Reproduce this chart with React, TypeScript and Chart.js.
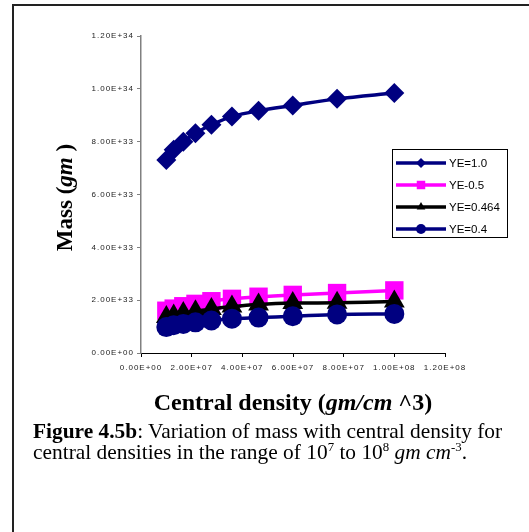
import React, { useEffect, useRef } from "react";
import { Chart, registerables } from "chart.js";

Chart.register(...registerables);

// Central density (gm/cm^3) at each computed model
const densities = [1.0e7, 1.29e7, 1.67e7, 2.15e7, 2.78e7, 3.59e7, 4.64e7, 5.99e7, 7.74e7, 1.0e8];

// Mass (gm) for each electron fraction
const massYE10 = [7.31e33, 7.69e33, 8.0e33, 8.32e33, 8.64e33, 8.95e33, 9.17e33, 9.37e33, 9.62e33, 9.84e33];
const massYE05 = [1.6e33, 1.68e33, 1.77e33, 1.86e33, 1.96e33, 2.05e33, 2.13e33, 2.2e33, 2.27e33, 2.37e33];
const massYE0464 = [1.36e33, 1.42e33, 1.51e33, 1.58e33, 1.67e33, 1.76e33, 1.84e33, 1.89e33, 1.9e33, 1.95e33];
const massYE04 = [0.98e33, 1.05e33, 1.1e33, 1.16e33, 1.23e33, 1.3e33, 1.34e33, 1.39e33, 1.46e33, 1.48e33];

const seriesLabels = ["YE=1.0", "YE-0.5", "YE=0.464", "YE=0.4"];

const xTickValues = [0, 2e7, 4e7, 6e7, 8e7, 1e8, 1.2e8];
const xTickLabels = ["0.00E+00", "2.00E+07", "4.00E+07", "6.00E+07", "8.00E+07", "1.00E+08", "1.20E+08"];
const yTickValues = [0, 2e33, 4e33, 6e33, 8e33, 1e34, 1.2e34];
const yTickLabels = ["0.00E+00", "2.00E+33", "4.00E+33", "6.00E+33", "8.00E+33", "1.00E+34", "1.20E+34"];

const NAVY = "#000080";
const MAGENTA = "#FF00FF";
const BLACK = "#000000";

const SERIF = "'Liberation Serif', 'Times New Roman', serif";
const SANS = "'Liberation Sans', Arial, sans-serif";

function toPoints(ys: number[]) {
  return densities.map((x, i) => ({ x, y: ys[i] }));
}

function drawMarker(ctx: CanvasRenderingContext2D, style: string, x: number, y: number, r: number) {
  ctx.beginPath();
  if (style === "rectRot") {
    ctx.moveTo(x, y - r);
    ctx.lineTo(x + r, y);
    ctx.lineTo(x, y + r);
    ctx.lineTo(x - r, y);
  } else if (style === "rect") {
    const s = r * Math.SQRT1_2;
    ctx.rect(x - s, y - s, 2 * s, 2 * s);
  } else if (style === "triangle") {
    ctx.moveTo(x, y - r);
    ctx.lineTo(x + r * 0.866, y + r * 0.5);
    ctx.lineTo(x - r * 0.866, y + r * 0.5);
  } else {
    ctx.arc(x, y, r, 0, Math.PI * 2);
  }
  ctx.closePath();
  ctx.fill();
}

type Seg = { text: string; italic: boolean };

function drawMixed(ctx: CanvasRenderingContext2D, segs: Seg[], size: number, cx: number, baseline: number) {
  const fontFor = (s: Seg) => `${s.italic ? "italic " : ""}bold ${size}px ${SERIF}`;
  let total = 0;
  for (const s of segs) {
    ctx.font = fontFor(s);
    total += ctx.measureText(s.text).width;
  }
  let x = cx - total / 2;
  ctx.textAlign = "left";
  ctx.textBaseline = "alphabetic";
  for (const s of segs) {
    ctx.font = fontFor(s);
    ctx.fillText(s.text, x, baseline);
    x += ctx.measureText(s.text).width;
  }
}

const decorPlugin = {
  id: "decor",
  beforeDraw(chart: any) {
    chart.ctx.letterSpacing = "1px";
  },
  afterDraw(chart: any) {
    const ctx: CanvasRenderingContext2D = chart.ctx;
    const area = chart.chartArea;
    ctx.save();
    (ctx as any).letterSpacing = "0px";
    ctx.fillStyle = "#000";

    // x axis title
    drawMixed(
      ctx,
      [
        { text: "Central density (", italic: false },
        { text: "gm/cm", italic: true },
        { text: " ^3)", italic: false },
      ],
      24,
      (area.left + area.right) / 2,
      410
    );

    // y axis title
    ctx.save();
    ctx.translate(72, (area.top + area.bottom) / 2 + 3);
    ctx.rotate(-Math.PI / 2);
    drawMixed(
      ctx,
      [
        { text: "Mass (", italic: false },
        { text: "gm", italic: true },
        { text: " )", italic: false },
      ],
      23,
      0,
      0
    );
    ctx.restore();

    // legend box
    const bx = 392.5, by = 149.5, bw = 115, bh = 88;
    ctx.fillStyle = "#fff";
    ctx.fillRect(bx, by, bw, bh);
    ctx.strokeStyle = "#000";
    ctx.lineWidth = 1;
    ctx.strokeRect(bx, by, bw, bh);

    const rows = [163, 185, 207, 229];
    chart.data.datasets.forEach((ds: any, i: number) => {
      const y = rows[i];
      ctx.strokeStyle = ds.borderColor;
      ctx.lineWidth = 3.5;
      ctx.beginPath();
      ctx.moveTo(396, y);
      ctx.lineTo(446, y);
      ctx.stroke();
      ctx.fillStyle = ds.borderColor;
      drawMarker(ctx, ds.pointStyle, 421, y, ds.pointStyle === "rect" ? 6 : 5);
      ctx.fillStyle = "#000";
      ctx.font = `11.5px ${SANS}`;
      ctx.textAlign = "left";
      ctx.textBaseline = "middle";
      ctx.fillText(ds.label, 449, y + 1);
    });
    ctx.restore();
  },
};

export default function App() {
  const canvasRef = useRef<HTMLCanvasElement | null>(null);

  useEffect(() => {
    if (!canvasRef.current) return;
    const common = {
      borderWidth: 3.5,
      tension: 0.35,
      pointBorderWidth: 0,
      fill: false,
    };
    const chart = new Chart(canvasRef.current, {
      type: "line",
      data: {
        datasets: [
          { ...common, label: seriesLabels[0], data: toPoints(massYE10), borderColor: NAVY, backgroundColor: NAVY, pointBackgroundColor: NAVY, pointStyle: "rectRot", pointRadius: 10, order: 3 },
          { ...common, label: seriesLabels[1], data: toPoints(massYE05), borderColor: MAGENTA, backgroundColor: MAGENTA, pointBackgroundColor: MAGENTA, pointStyle: "rect", pointRadius: 13, order: 2 },
          { ...common, label: seriesLabels[2], data: toPoints(massYE0464), borderColor: BLACK, backgroundColor: BLACK, pointBackgroundColor: BLACK, pointStyle: "triangle", pointRadius: 12, order: 1 },
          { ...common, label: seriesLabels[3], data: toPoints(massYE04), borderColor: NAVY, backgroundColor: NAVY, pointBackgroundColor: NAVY, pointStyle: "circle", pointRadius: 10, order: 0 },
        ] as any,
      },
      options: {
        animation: false,
        responsive: false,
        devicePixelRatio: 1,
        layout: { padding: { left: 0, top: 36, right: 84, bottom: 37 } },
        plugins: { legend: { display: false }, tooltip: { enabled: false } },
        scales: {
          x: {
            type: "linear",
            min: 0,
            max: 1.2e8,
            afterBuildTicks: (scale: any) => {
              scale.ticks = xTickValues.map((value) => ({ value }));
            },
            afterFit: (scale: any) => {
              scale.height = 30;
            },
            ticks: {
              autoSkip: false,
              maxRotation: 0,
              minRotation: 0,
              padding: 6,
              color: "#222",
              font: { family: SANS, size: 8 },
              callback: (_v: any, i: number) => xTickLabels[i],
            },
            grid: { drawOnChartArea: false, drawTicks: true, tickLength: 4, color: "#000" },
            border: { color: "#000", width: 1 },
          },
          y: {
            type: "linear",
            min: 0,
            max: 1.2e34,
            afterBuildTicks: (scale: any) => {
              scale.ticks = yTickValues.map((value) => ({ value }));
            },
            afterFit: (scale: any) => {
              scale.width = 141;
            },
            ticks: {
              autoSkip: false,
              padding: 3,
              color: "#222",
              font: { family: SANS, size: 8 },
              callback: (_v: any, i: number) => yTickLabels[i],
            },
            grid: { drawOnChartArea: false, drawTicks: true, tickLength: 4, color: "#808080" },
            border: { color: "#808080", width: 1.5 },
          },
        },
      } as any,
      plugins: [decorPlugin],
    });
    return () => chart.destroy();
  }, []);

  return (
    <div style={{ position: "fixed", left: 0, top: 0, width: 529, height: 532, overflow: "hidden", background: "#fff" }}>
      <div
        style={{
          position: "absolute",
          left: 12,
          top: 4,
          width: 600,
          height: 600,
          border: "2px solid #222",
          boxSizing: "border-box",
        }}
      />
      <canvas ref={canvasRef} width={529} height={420} style={{ position: "absolute", left: 0, top: 0 }} />
      <div
        style={{
          position: "absolute",
          left: 33,
          top: 421,
          width: 490,
          fontFamily: SERIF,
          fontSize: 21.4,
          lineHeight: "21px",
          color: "#000",
          whiteSpace: "nowrap",
        }}
      >
        <div>
          <b>Figure 4.5b</b>: Variation of mass with central density for
        </div>
        <div>
          central densities in the range of 10
          <span style={{ fontSize: "0.6em", position: "relative", top: "-0.65em" }}>7</span> to 10
          <span style={{ fontSize: "0.6em", position: "relative", top: "-0.65em" }}>8</span>{" "}
          <i>gm cm</i>
          <span style={{ fontSize: "0.6em", position: "relative", top: "-0.65em" }}>-3</span>.
        </div>
      </div>
    </div>
  );
}
